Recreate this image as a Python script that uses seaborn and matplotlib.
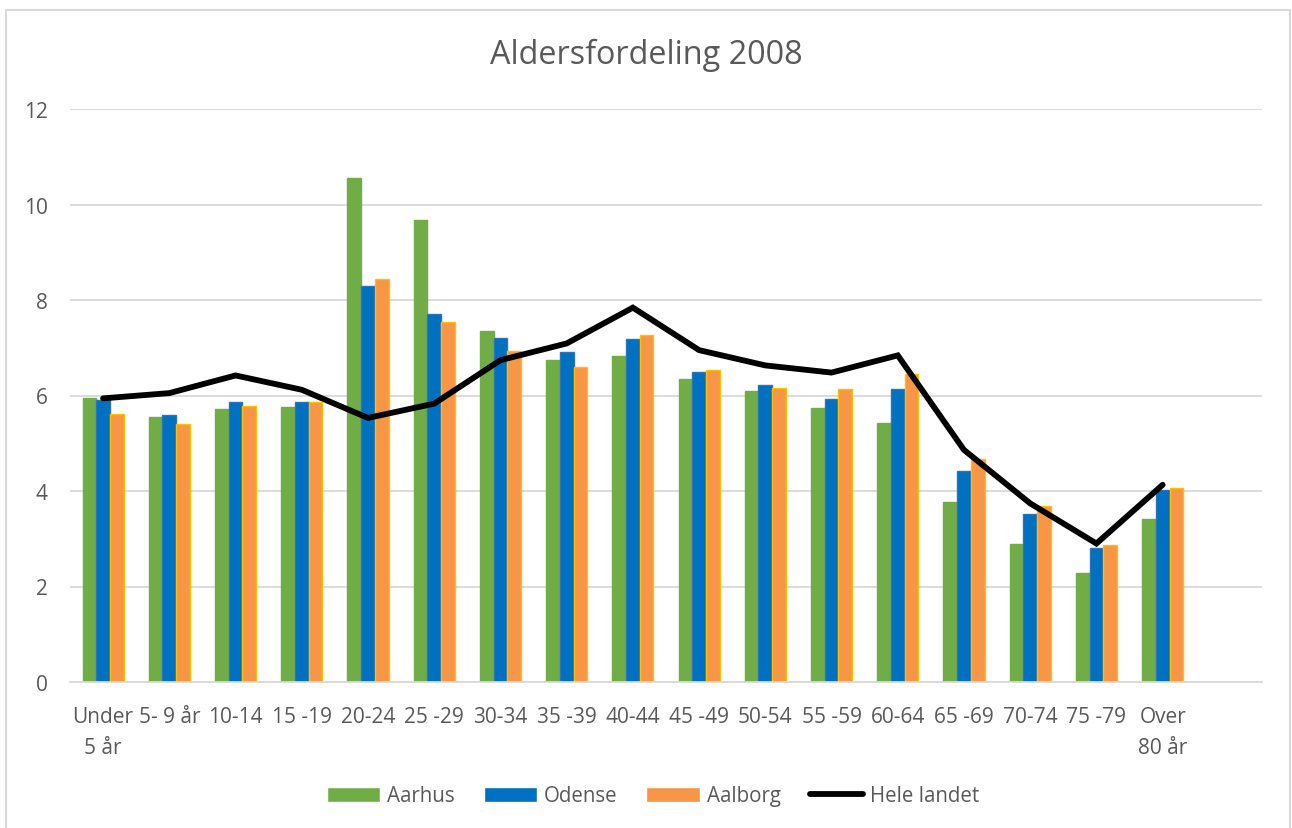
import numpy as np
import pandas as pd
import matplotlib
matplotlib.use("Agg")
import matplotlib.pyplot as plt
from matplotlib.patches import Rectangle
import seaborn as sns

categories = ["Under\n5 år", "5- 9 år", "10-14", "15 -19", "20-24", "25 -29", "30-34",
              "35 -39", "40-44", "45 -49", "50-54", "55 -59", "60-64", "65 -69",
              "70-74", "75 -79", "Over\n80 år"]
aarhus = [5.94, 5.56, 5.71, 5.76, 10.55, 9.68, 7.35, 6.75, 6.83, 6.34, 6.10, 5.73, 5.43, 3.76, 2.88, 2.28, 3.42]
odense = [5.91, 5.59, 5.86, 5.86, 8.30, 7.70, 7.20, 6.92, 7.18, 6.50, 6.23, 5.93, 6.13, 4.42, 3.51, 2.81, 4.02]
aalborg = [5.61, 5.40, 5.79, 5.87, 8.44, 7.54, 6.93, 6.60, 7.26, 6.53, 6.16, 6.13, 6.45, 4.66, 3.68, 2.87, 4.06]
hele_landet = [5.94, 6.05, 6.42, 6.12, 5.53, 5.83, 6.74, 7.09, 7.84, 6.95, 6.63, 6.48, 6.84, 4.86, 3.74, 2.90, 4.13]
series_names = ["Aarhus", "Odense", "Aalborg"]
line_name = "Hele landet"
title = "Aldersfordeling 2008"
yticks = [0, 2, 4, 6, 8, 10, 12]

colors = {"Aarhus": "#70AD47", "Odense": "#0070C0", "Aalborg": "#F79646"}
edges = {"Aarhus": "#70AD47", "Odense": "#2E75B6", "Aalborg": "#FFC000"}
text_color = "#595959"
grid_color = "#D9D9D9"

sns.set_theme(style="white")
plt.rcParams["font.family"] = ["Open Sans", "DejaVu Sans"]

df = pd.DataFrame({
    "Alder": categories * 3,
    "By": sum([[n] * len(categories) for n in series_names], []),
    "Procent": aarhus + odense + aalborg,
})

W, H = 1292, 829
fig = plt.figure(figsize=(W / 100, H / 100), dpi=100)
ax = fig.add_axes([70 / W, 1 - 683 / H, (1262 - 70) / W, (683 - 110) / H])

sns.barplot(data=df, x="Alder", y="Procent", hue="By", order=categories,
            hue_order=series_names, palette=colors, width=0.62, gap=0,
            saturation=1, errorbar=None, ax=ax)
for cont, name in zip(ax.containers, series_names):
    for p in cont:
        p.set_edgecolor(edges[name])
        p.set_linewidth(1.0)
        p.set_zorder(2)

xpos = np.arange(len(hele_landet))
sns.lineplot(x=xpos, y=hele_landet, color="black", linewidth=4.2, ax=ax,
             label=line_name, zorder=3)
for l in ax.lines:
    l.set_solid_joinstyle("miter")

ax.set_xlim(-0.5, len(categories) + 0.5)
ax.set_ylim(0, 12)
ax.set_yticks(yticks)
ax.set_xticks(np.arange(len(categories)))
ax.set_xticklabels(categories, linespacing=1.62)
ax.set_xlabel("")
ax.set_ylabel("")
ax.yaxis.grid(True, color=grid_color, linewidth=1.3, zorder=0)
ax.set_axisbelow(True)
for s in ["left", "right", "top"]:
    ax.spines[s].set_visible(False)
ax.spines["bottom"].set_color(grid_color)
ax.spines["bottom"].set_linewidth(1.3)
ax.tick_params(axis="both", length=0, colors=text_color, labelsize=15)
ax.tick_params(axis="y", pad=16)
ax.tick_params(axis="x", pad=17)

handles, labels = ax.get_legend_handles_labels()
if ax.get_legend():
    ax.get_legend().remove()
fig.legend(handles, labels, loc="center", bbox_to_anchor=(653 / W, 1 - 797 / H),
           ncol=4, frameon=False, fontsize=14.8, handlelength=2.6,
           handletextpad=0.34, columnspacing=1.4, labelcolor=text_color)

fig.text(0.5, 1 - 55 / H, title, ha="center", va="center", fontsize=23.3,
         color=text_color)

fig.patches.append(Rectangle((6 / W, -0.01), (1290 - 6) / W, 1 - 11 / H + 0.01,
                             transform=fig.transFigure, fill=False,
                             edgecolor=grid_color, linewidth=1.5))

fig.savefig("out.png", dpi=100, facecolor="white")
